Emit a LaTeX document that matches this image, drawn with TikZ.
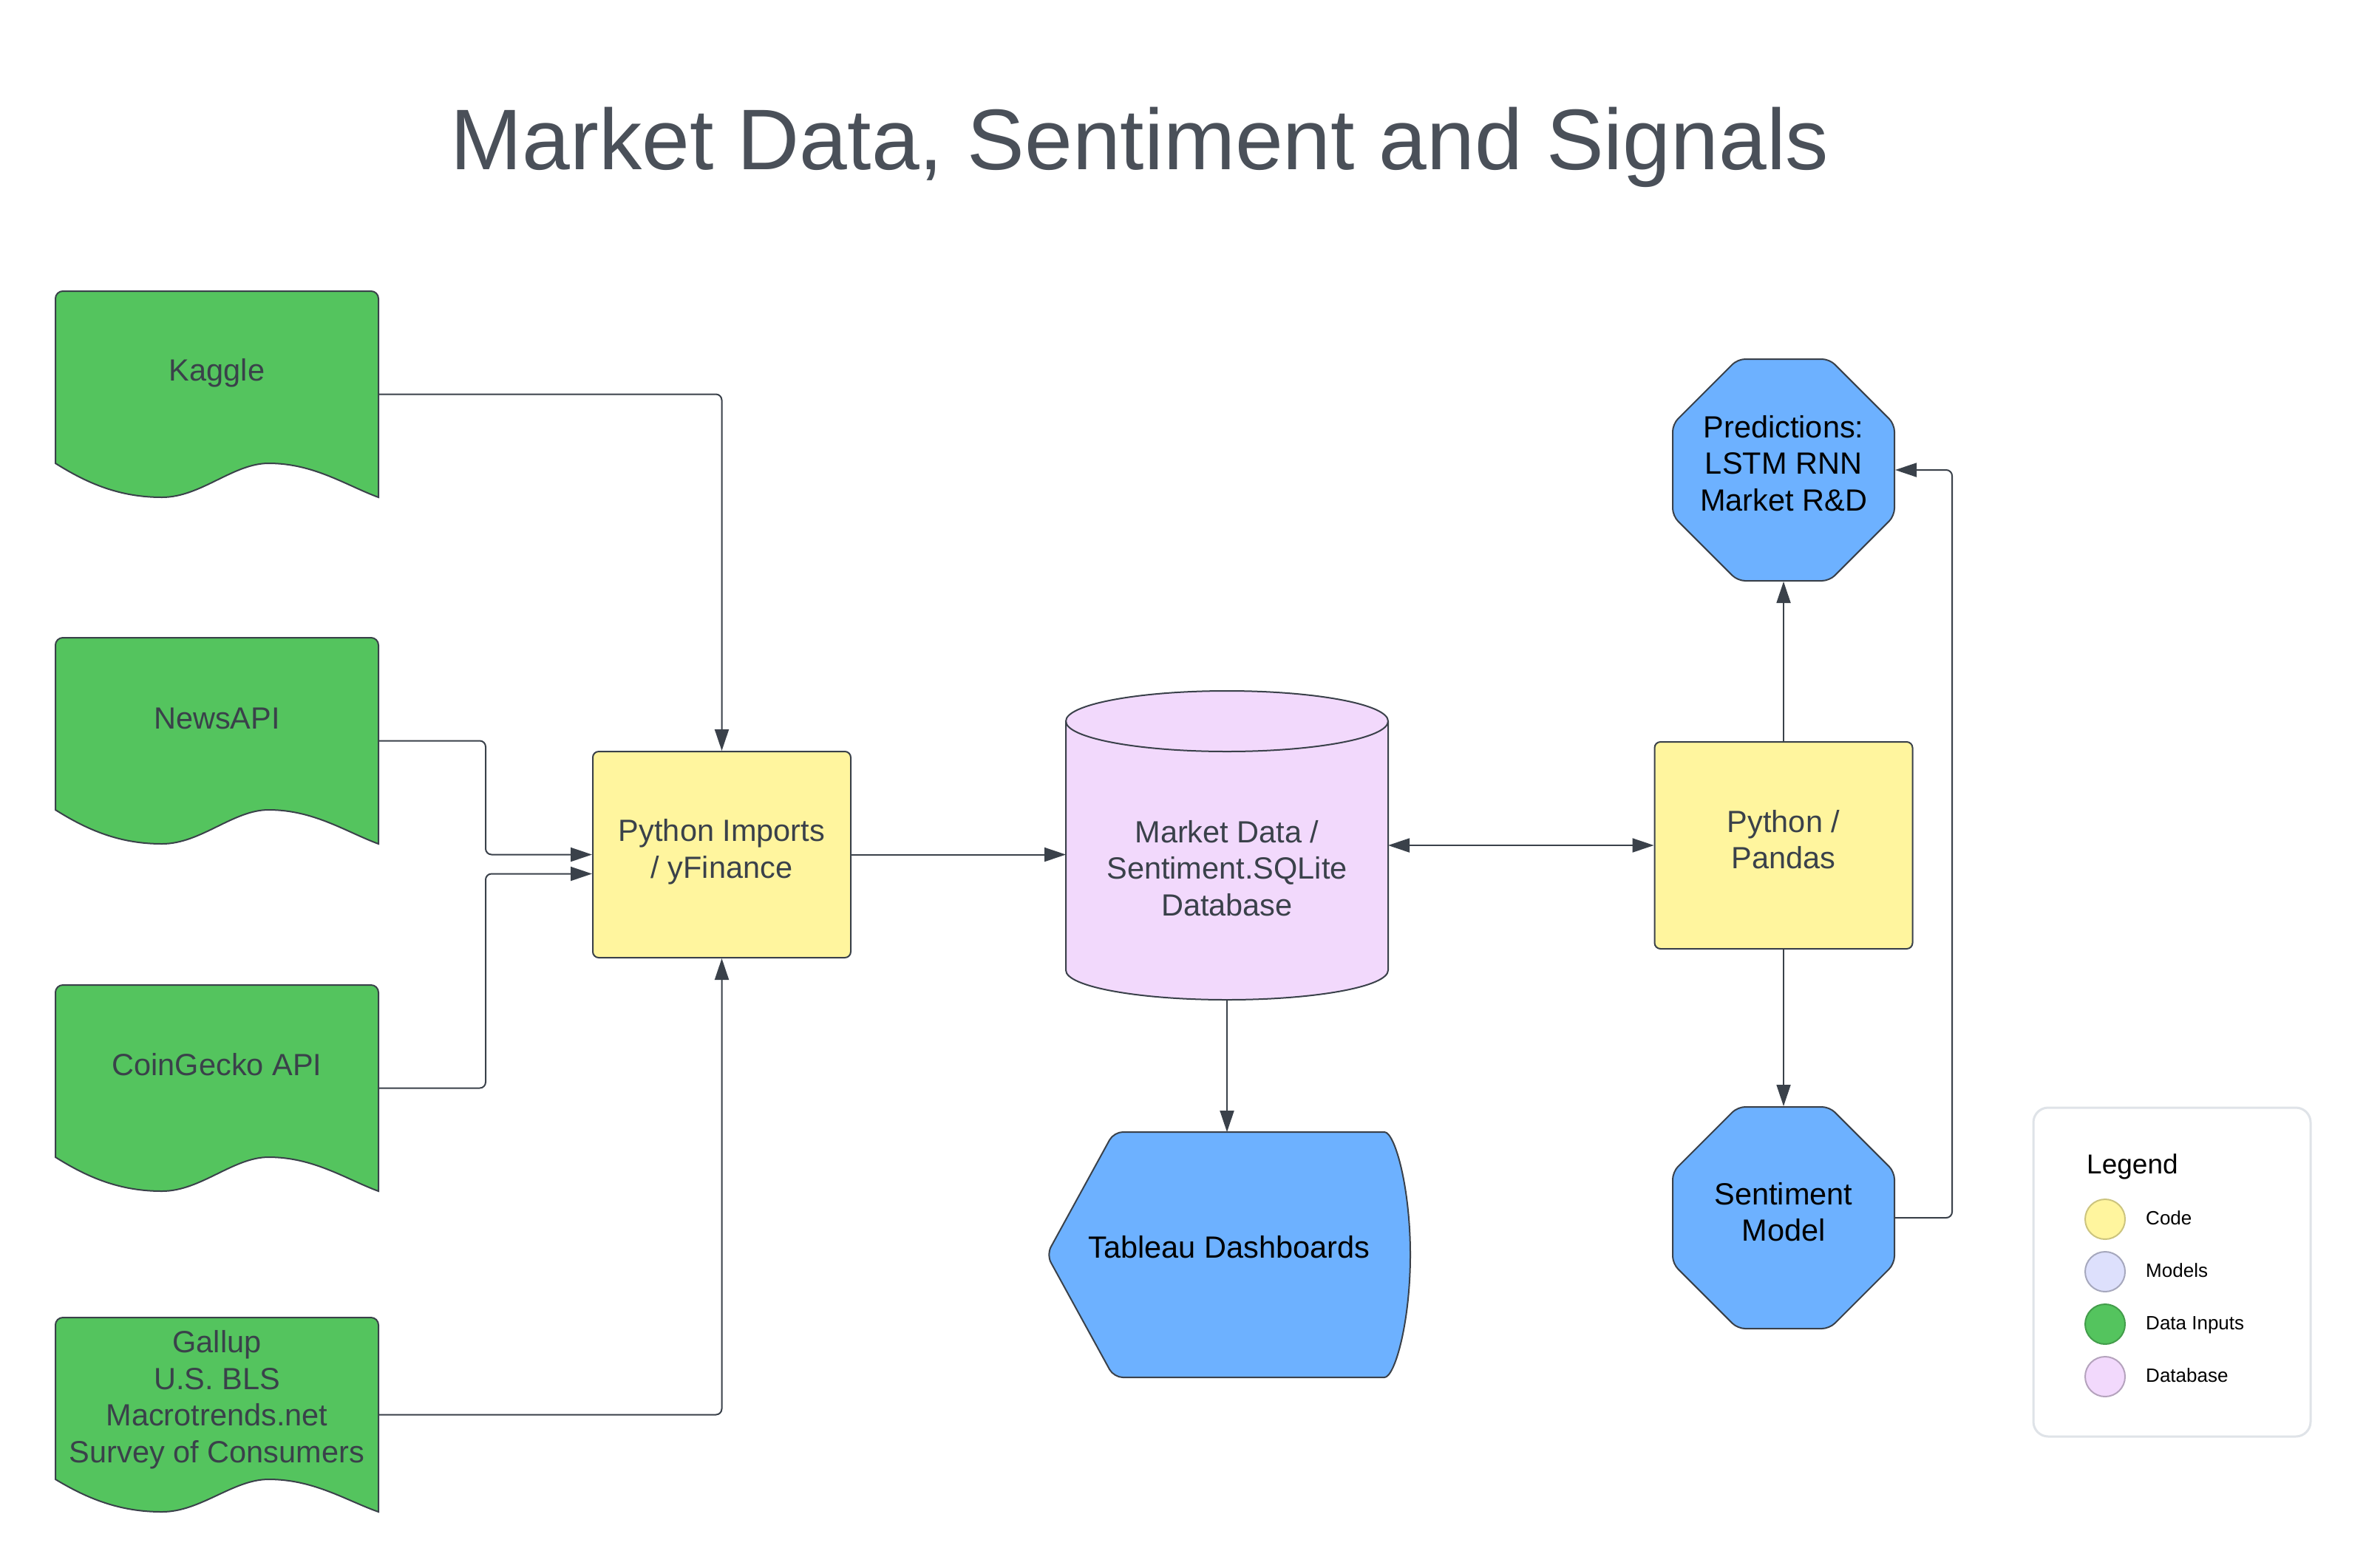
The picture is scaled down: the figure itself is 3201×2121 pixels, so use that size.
\documentclass[tikz,border=0pt]{standalone}
\usepackage{fontspec}
\setmainfont{Liberation Sans}
\usetikzlibrary{arrows.meta,shapes.geometric,calc}
\definecolor{ln}{HTML}{3A414A}
\definecolor{titlec}{HTML}{4A5059}
\definecolor{gfill}{HTML}{54C45E}
\definecolor{yfill}{HTML}{FFF59E}
\definecolor{pfill}{HTML}{F2D9FC}
\definecolor{bfill}{HTML}{6DB1FF}
\definecolor{mfill}{HTML}{DDE0FC}
\definecolor{legline}{HTML}{DFE3E8}
\tikzset{
  conn/.style={draw=ln, line width=2pt, rounded corners=8pt, -{Triangle[length=29pt,width=19pt]}},
  ghost/.style={draw=none, rectangle, inner sep=0pt, outer sep=0pt},
  lbl/.style={font=\fontsize{41.5}{49.5}\selectfont, align=center, text=ln, inner sep=0pt},
  blbl/.style={font=\fontsize{41.5}{49.5}\selectfont, align=center, text=black, inner sep=0pt},
  codebox/.style={rectangle, rounded corners=8pt, fill=yfill, draw=ln, line width=2pt, inner sep=0pt},
  octa/.style={regular polygon, regular polygon sides=8, minimum size=324.7pt, inner sep=0pt,
     fill=bfill, draw=ln, line width=2pt, rounded corners=10pt},
  legdot/.style={circle, minimum size=54pt, inner sep=0pt, line width=2pt},
  leglbl/.style={anchor=base west, font=\fontsize{26}{30}\selectfont, text=black, inner sep=0pt},
}
\newcommand\docnode[8]{%
  \pgfmathsetmacro\dW{#4-#2}%
  \pgfmathsetmacro\dB{#5+#6}%
  \pgfmathsetmacro\dH{\dB-#3}%
  \filldraw[fill=gfill,draw=ln,line width=2pt] (#2,#5) -- (#2,{#3+10}) arc[start angle=180,end angle=270,radius=10]
    -- ({#4-10},#3) arc[start angle=270,end angle=360,radius=10] -- (#4,\dB)
    .. controls ({#2+0.9*\dW},{#5+0.65*#6}) and ({#2+0.8*\dW},#5) .. ({#2+0.66*\dW},#5)
    .. controls ({#2+0.55*\dW},#5) and ({#2+0.45*\dW},\dB) .. ({#2+0.33*\dW},\dB)
    .. controls ({#2+0.2*\dW},\dB) and ({#2+0.1*\dW},{#5+0.6*#6}) .. (#2,#5) -- cycle;
  \node[ghost, minimum width=\dW pt, minimum height=\dH pt] (#1) at ({(#2+#4)/2},{(#3+\dB)/2}) {};
  \node[lbl] (#1t) at ({(#2+#4)/2},#7) {#8};
}
\begin{document}
\begin{tikzpicture}[x=1pt,y=-1pt]
\useasboundingbox (0,0) rectangle (3201,2121);
\fill[white] (0,0) rectangle (3201,2121);

% title
\node[anchor=base, font=\fontsize{116.5}{138}\selectfont, text=titlec, inner sep=0pt] (title) at (1542,229) {Market Data, Sentiment and Signals};

% data inputs
\docnode{kaggle}{75}{394}{512}{627}{46}{505}{Kaggle}
\docnode{news}{75}{863}{512}{1096}{46}{972}{NewsAPI}
\docnode{coin}{75}{1333}{512}{1566}{46}{1441}{CoinGecko API}
\docnode{gallup}{75}{1783}{512}{2002}{44}{1894}{Gallup\\U.S. BLS\\Macrotrends.net\\Survey of Consumers}

% python imports
\node[codebox, minimum width=349pt, minimum height=279pt] (pi) at (976.5,1156.5) {};
\node[lbl] (pit) at (976.5,1153) {Python Imports\\/ yFinance};

% database cylinder
\filldraw[fill=pfill, draw=ln, line width=2pt] (1442,976) -- (1442,1313)
   arc[start angle=180,end angle=0,x radius=218,y radius=40] -- (1878,976)
   arc[start angle=0,end angle=-180,x radius=218,y radius=41] -- cycle;
\draw[ln, line width=2pt] (1442,976) arc[start angle=180,end angle=0,x radius=218,y radius=41];
\node[ghost, minimum width=436pt, minimum height=418pt] (db) at (1660,1144) {};
\node[lbl] (dbt) at (1660,1175) {Market Data /\\Sentiment.SQLite\\Database};

% tableau
\filldraw[fill=bfill, draw=ln, line width=2pt, rounded corners=12pt] (1416,1698) -- (1507,1532) -- (1861,1532)
   arc[start angle=-90,end angle=90,x radius=47,y radius=166] -- (1507,1864) -- cycle;
\node[ghost, minimum width=492pt, minimum height=332pt] (tab) at (1662,1698) {};
\node[blbl] (tabt) at (1663,1688) {Tableau Dashboards};

% pandas
\node[codebox, minimum width=349pt, minimum height=280pt] (pandas) at (2413,1144) {};
\node[lbl] (pandast) at (2413,1136) {Python /\\Pandas};

% octagons
\node[octa] (pred) at (2413,636) {};
\node[blbl] (predt) at (2413,627) {Predictions:\\LSTM RNN\\Market R\&D};
\node[octa] (sent) at (2413,1648) {};
\node[blbl] (sentt) at (2413,1640) {Sentiment\\Model};

% connectors
\coordinate (bendx) at (657,0);
\coordinate (piw2) at ($(pi.west)+(0,26)$);
\draw[conn] (kaggle.east) -| (pi.north);
\draw[conn] (news.east) -- (news.east -| bendx) |- (pi.west);
\draw[conn] (coin.east) -- (coin.east -| bendx) |- (piw2);
\draw[conn] (gallup.east) -| (pi.south);
\draw[conn] (pi.east) -- (pi.east -| db.west);
\draw[conn, {Triangle[length=29pt,width=19pt]}-{Triangle[length=29pt,width=19pt]}] (db.east) -- (pandas.west);
\draw[conn] (db.south) -- (db.south |- tab.north);
\draw[conn] (pandas.north) -- (pred.south);
\draw[conn] (pandas.south) -- (sent.north);
\draw[conn] (sent.east) -- ++(77,0) |- (pred.east);

% legend
\node[ghost, draw=legline, line width=3pt, rounded corners=20pt, minimum width=375pt, minimum height=445pt] (legend) at (2938.5,1721.5) {};
\node[anchor=base west, font=\fontsize{37}{44}\selectfont, text=black, inner sep=0pt] (legt) at (2823,1588) {Legend};
\node[legdot, fill=yfill, draw=yfill!80!black] (lc1) at (2848,1650) {};
\node[legdot, fill=mfill, draw=mfill!75!black] (lc2) at (2848,1721) {};
\node[legdot, fill=gfill, draw=gfill!80!black] (lc3) at (2848,1792) {};
\node[legdot, fill=pfill, draw=pfill!75!black] (lc4) at (2848,1863) {};
\node[leglbl] (ll1) at (2903,1657) {Code};
\node[leglbl] (ll2) at (2903,1728) {Models};
\node[leglbl] (ll3) at (2903,1799) {Data Inputs};
\node[leglbl] (ll4) at (2903,1870) {Database};
\end{tikzpicture}
\end{document}
